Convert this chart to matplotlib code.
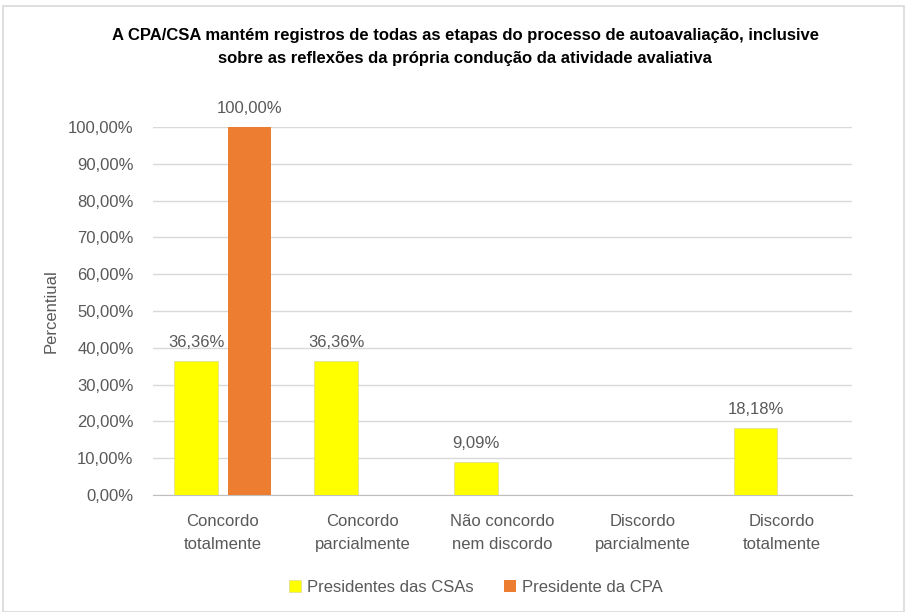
import numpy as np
import matplotlib.pyplot as plt
from matplotlib.patches import Rectangle
from matplotlib.ticker import FuncFormatter

plt.rcParams['font.family'] = ['Liberation Sans Narrow', 'Liberation Sans', 'DejaVu Sans']

categories = ["Concordo\ntotalmente", "Concordo\nparcialmente", "Não concordo\nnem discordo",
              "Discordo\nparcialmente", "Discordo\ntotalmente"]
csas = [36.36, 36.36, 9.09, 0, 18.18]
cpa = [100.0, 0, 0, 0, 0]
series_names = ["Presidentes das CSAs", "Presidente da CPA"]
title = ("A CPA/CSA mantém registros de todas as etapas do processo de autoavaliação, inclusive\n"
         "sobre as reflexões da própria condução da atividade avaliativa")

def pct(v):
    return f"{v:.2f}%".replace(".", ",")

fig = plt.figure(figsize=(9.07, 6.12), dpi=100)
fig.patches.append(Rectangle((0.003, 0.0), 0.994, 0.99, transform=fig.transFigure,
                             fill=False, edgecolor='#d9d9d9', lw=1.2))
ax = fig.add_axes([153/907, 1 - 495/612, 699/907, 368/612])

x = np.arange(len(categories))
w = 0.314
off = 0.19
b1 = ax.bar(x - off, csas, w, color='#FFFF00', edgecolor='#d0d0a0', lw=0.4, zorder=3,
            label=series_names[0])
b2 = ax.bar(x + off, cpa, w, color='#ED7D31', zorder=3, label=series_names[1])

for bars, vals in ((b1, csas), (b2, cpa)):
    for r, v in zip(bars, vals):
        if v > 0:
            ax.text(r.get_x() + r.get_width() / 2, v + 3.0, pct(v), ha='center', va='bottom',
                    fontsize=12, color='#595959')

ax.set_xlim(-0.5, 4.5)
ax.set_ylim(0, 100)
ax.set_yticks(np.arange(0, 101, 10))
ax.yaxis.set_major_formatter(FuncFormatter(lambda v, p: pct(v)))
ax.set_xticks(x)
ax.set_xticklabels(categories, linespacing=1.6)
ax.tick_params(axis='both', length=0, labelsize=12, colors='#595959')
ax.tick_params(axis='x', pad=14)
ax.tick_params(axis='y', pad=14)
ax.grid(axis='y', color='#d9d9d9', lw=1, zorder=0)
for s in ['top', 'right', 'left']:
    ax.spines[s].set_visible(False)
ax.spines['bottom'].set_color('#bfbfbf')
ax.set_ylabel("Percentiual", fontsize=12, color='#595959', labelpad=7)

fig.text(0.513, 1 - 47/612, title, ha='center', va='center', fontsize=12, fontweight='bold',
         linespacing=1.6, color='black')

fig.legend(handles=[b1, b2], loc='center', bbox_to_anchor=(0.525, 1 - 587/612), ncol=2,
           frameon=False, fontsize=12, handlelength=0.7, handleheight=0.7,
           columnspacing=1.8, handletextpad=0.4, labelcolor='#595959')

fig.savefig("out.png", dpi=100)
